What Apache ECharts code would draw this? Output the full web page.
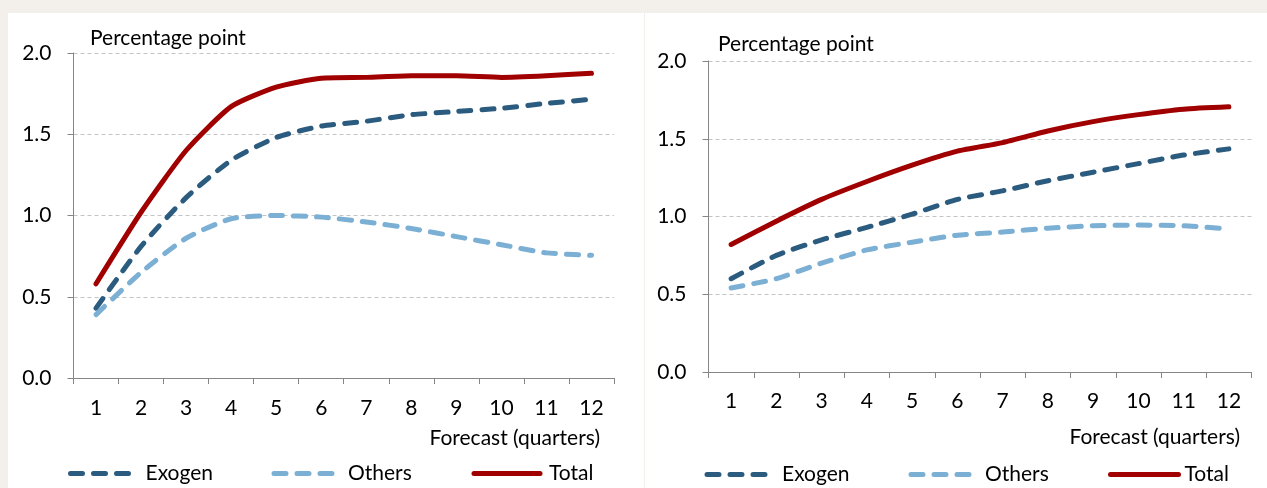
<!DOCTYPE html>
<html>
<head>
<meta charset="utf-8">
<script src="https://cdn.jsdelivr.net/npm/echarts@6/dist/echarts.min.js"></script>
<style>
html,body{margin:0;padding:0;background:#f3efeb;}
#chart{width:1267px;height:488px;}
</style>
</head>
<body>
<div id="chart"></div>
<script>
// ---- data ----
var categories = ['1','2','3','4','5','6','7','8','9','10','11','12'];
var yTicks = [0, 0.5, 1.0, 1.5, 2.0];
var seriesNames = ['Exogen', 'Others', 'Total'];
var leftExogen = [0.43, 0.81, 1.11, 1.34, 1.48, 1.55, 1.58, 1.62, 1.64, 1.66, 1.69, 1.715];
var leftOthers = [0.39, 0.65, 0.86, 0.98, 1.00, 0.99, 0.96, 0.92, 0.87, 0.82, 0.77, 0.755];
var leftTotal  = [0.58, 1.02, 1.40, 1.67, 1.79, 1.845, 1.85, 1.86, 1.86, 1.85, 1.86, 1.875];
var rightExogen = [0.60, 0.75, 0.85, 0.93, 1.015, 1.11, 1.165, 1.23, 1.285, 1.34, 1.395, 1.435];
var rightOthers = [0.54, 0.60, 0.70, 0.785, 0.835, 0.88, 0.90, 0.925, 0.94, 0.945, 0.94, 0.92];
var rightTotal  = [0.82, 0.97, 1.11, 1.225, 1.33, 1.42, 1.475, 1.55, 1.61, 1.655, 1.69, 1.705];
var yAxisTitle = 'Percentage point';
var xAxisTitle = 'Forecast (quarters)';

// ---- styles ----
var FONT = 'Lato';
var FS = 21;
var colors = {Exogen: '#2b5b7e', Others: '#7bafd4', Total: '#a00000'};
var dash = [12, 11];

var chart = echarts.init(document.getElementById('chart'), null, {renderer: 'canvas'});

function xAxis(gi, margin) {
  return {
    type: 'category', gridIndex: gi, data: categories, boundaryGap: true,
    axisLine: {lineStyle: {color: '#868686', width: 1}},
    axisTick: {show: true, interval: 0, length: 6, lineStyle: {color: '#868686'}},
    axisLabel: {interval: 0, margin: margin, color: '#000', fontFamily: FONT, fontSize: FS},
    splitLine: {show: false}
  };
}
function yAxis(gi) {
  return {
    type: 'value', gridIndex: gi, min: yTicks[0], max: yTicks[yTicks.length - 1], interval: 0.5,
    axisLine: {show: true, lineStyle: {color: '#868686', width: 1}},
    axisTick: {show: true, length: 6, lineStyle: {color: '#868686'}},
    axisLabel: {margin: 22, color: '#000', fontFamily: FONT, fontSize: FS,
      formatter: function (v) { return v.toFixed(1); }},
    splitLine: {show: true, lineStyle: {color: '#c4c4c4', width: 1, type: [4, 3]}}
  };
}
function line(name, data, gi) {
  var ls = {color: colors[name], width: 5, cap: 'round', join: 'round'};
  if (name !== 'Total') ls.type = dash;
  return {
    name: name, type: 'line', xAxisIndex: gi, yAxisIndex: gi, data: data,
    smooth: 0.2, symbol: 'none', lineStyle: ls, itemStyle: {color: colors[name]},
    z: name === 'Total' ? 3 : 2
  };
}
function legend(name, left, top, w, pad) {
  var ls = {width: 5, cap: 'round', color: colors[name]};
  if (name !== 'Total') ls.type = dash;
  return {
    data: [name], left: left, top: top, orient: 'horizontal',
    itemWidth: w, itemHeight: 14, padding: 0, selectedMode: false,
    lineStyle: ls, itemStyle: {opacity: 0},
    textStyle: {color: '#000', fontFamily: FONT, fontSize: FS, padding: [0, 0, 0, pad]}
  };
}
function txt(text, x, y, align) {
  return {type: 'text', z: 50, silent: true,
    style: {text: text, x: x, y: y, fill: '#000', fontFamily: FONT, fontSize: FS,
      align: align, verticalAlign: 'middle'}};
}

var option = {
  backgroundColor: '#f3efeb',
  animation: false,
  grid: [
    {left: 73.5, top: 53, width: 540.5, height: 325, containLabel: false},
    {left: 708.5, top: 61, width: 543, height: 311, containLabel: false}
  ],
  xAxis: [xAxis(0, 20), xAxis(1, 19)],
  yAxis: [yAxis(0), yAxis(1)],
  series: [
    line('Exogen', leftExogen, 0), line('Others', leftOthers, 0), line('Total', leftTotal, 0),
    line('Exogen', rightExogen, 1), line('Others', rightOthers, 1), line('Total', rightTotal, 1)
  ],
  legend: [
    legend('Exogen', 68, 463, 61, 9),
    legend('Others', 271.5, 463, 61, 8),
    legend('Total', 471.5, 463, 66, 4),
    legend('Exogen', 704.5, 464, 59, 11),
    legend('Others', 908.5, 464, 60, 9),
    legend('Total', 1108, 464, 68, 1)
  ],
  graphic: [
    {type: 'rect', z: -100, silent: true, shape: {x: 8, y: 13, width: 636, height: 475}, style: {fill: '#ffffff'}},
    {type: 'rect', z: -100, silent: true, shape: {x: 645, y: 13, width: 622, height: 475}, style: {fill: '#ffffff'}},
    txt(yAxisTitle, 90, 38, 'left'),
    txt(yAxisTitle, 718, 44, 'left'),
    txt(xAxisTitle, 600, 438, 'right'),
    txt(xAxisTitle, 1240, 437, 'right')
  ]
};
chart.setOption(option);
</script>
</body>
</html>
